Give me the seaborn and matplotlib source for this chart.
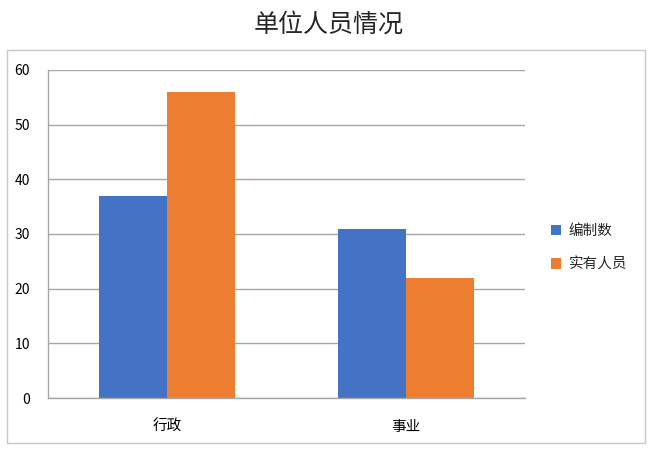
import pandas as pd
import matplotlib
matplotlib.use("Agg")
import matplotlib.pyplot as plt
import seaborn as sns
from matplotlib.patches import Rectangle

categories = ["行政", "事业"]
series_names = ["编制数", "实有人员"]
bianzhi = [37, 31]
shiyou = [56, 22]
colors = ["#4472C4", "#ED7D31"]
yticks = [0, 10, 20, 30, 40, 50, 60]

df = pd.DataFrame({
    "类别": categories * 2,
    "系列": [series_names[0]] * 2 + [series_names[1]] * 2,
    "人数": bianzhi + shiyou,
})

sns.set_style("white")
plt.rcParams["font.family"] = ["Noto Sans CJK SC", "DejaVu Sans"]

fig = plt.figure(figsize=(6.58, 4.53), dpi=100)
ax = fig.add_axes([0.073, 0.1214, 0.725, 0.7241])

sns.barplot(data=df, x="类别", y="人数", hue="系列", palette=colors,
            width=0.57, saturation=1, ax=ax, errorbar=None, linewidth=0)

ax.set_ylim(0, 60)
ax.set_yticks(yticks)
ax.set_xlim(-0.5, 1.5)
ax.set_xlabel("")
ax.set_ylabel("")
ax.yaxis.grid(True, color="#A6A6A6", linewidth=1)
ax.set_axisbelow(True)
for s in ["top", "right"]:
    ax.spines[s].set_visible(False)
for s in ["left", "bottom"]:
    ax.spines[s].set_color("#A6A6A6")
    ax.spines[s].set_linewidth(1)
ax.tick_params(axis="y", length=5, color="#A6A6A6", labelsize=10, pad=8, labelcolor="#000000")
ax.tick_params(axis="x", which="major", length=0, labelsize=10.5, pad=16, labelcolor="#000000")
ax.set_xticks([-0.5, 0.5, 1.5], minor=True)
ax.tick_params(axis="x", which="minor", length=5, color="#A6A6A6")

ax.legend(loc="center left", bbox_to_anchor=(538 / 658, 1 - 248 / 453),
          bbox_transform=fig.transFigure, frameon=False,
          fontsize=10.5, handlelength=0.7, handleheight=0.7, labelspacing=1.3,
          handletextpad=0.5)

fig.patches.append(Rectangle((7 / 658, 1 - 443 / 453), 638 / 658, 393 / 453,
                             transform=fig.transFigure, fill=False,
                             edgecolor="#C8C8C8", linewidth=1))
fig.text(0.5, 1 - 25 / 453, "单位人员情况", ha="center", va="center", fontsize=18)

fig.savefig("out.png", dpi=100)
